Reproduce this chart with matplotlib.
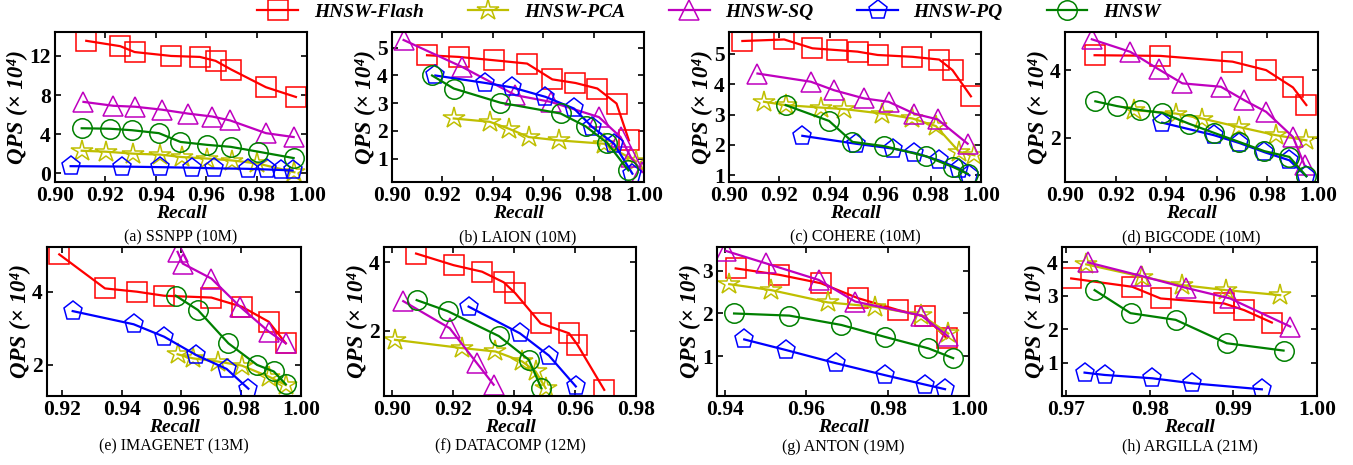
import matplotlib
matplotlib.use("Agg")
import matplotlib.pyplot as plt
from matplotlib.ticker import FormatStrFormatter
from matplotlib.lines import Line2D

plt.rcParams['font.family'] = ['Liberation Serif', 'DejaVu Serif']

METHODS = ['HNSW-Flash', 'HNSW-PCA', 'HNSW-SQ', 'HNSW-PQ', 'HNSW']
COLORS = {'HNSW-Flash': 'r', 'HNSW-PCA': 'y', 'HNSW-SQ': 'm', 'HNSW-PQ': 'b', 'HNSW': 'g'}
MARKERS = {'HNSW-Flash': 's', 'HNSW-PCA': '*', 'HNSW-SQ': '^', 'HNSW-PQ': 'p', 'HNSW': 'o'}

# (recall, QPS x 1e4) per method
ssnpp = {
    'HNSW-Flash': ([0.9124, 0.9259, 0.9316, 0.9461, 0.9575, 0.9637, 0.970, 0.9837, 0.9956],
                   [13.55, 13.0, 12.4, 12.0, 11.9, 11.5, 10.6, 8.8, 7.8]),
    'HNSW-PCA': ([0.9106, 0.9203, 0.931, 0.9418, 0.9505, 0.9604, 0.9704, 0.9803, 0.995],
                 [2.3, 2.2, 2.0, 1.9, 1.65, 1.5, 1.3, 1.0, 0.1]),
    'HNSW-SQ': ([0.9113, 0.9232, 0.9319, 0.9425, 0.9528, 0.9624, 0.9695, 0.9837, 0.9947],
                [7.3, 6.9, 6.8, 6.5, 6.1, 5.8, 5.4, 4.1, 3.7]),
    'HNSW-PQ': ([0.9062, 0.9266, 0.9416, 0.9545, 0.9631, 0.9764, 0.9843, 0.9896, 0.9943],
                [0.72, 0.68, 0.62, 0.56, 0.5, 0.45, 0.38, 0.33, 0.28]),
    'HNSW': ([0.9106, 0.9219, 0.9305, 0.9412, 0.9498, 0.9604, 0.9697, 0.9807, 0.9947],
             [4.6, 4.55, 4.4, 4.1, 3.2, 2.9, 2.7, 2.2, 1.55]),
}
laion = {
    'HNSW-Flash': ([0.9139, 0.9265, 0.9404, 0.9536, 0.9636, 0.9728, 0.9815, 0.9891, 0.9940],
                   [4.73, 4.67, 4.55, 4.43, 3.86, 3.73, 3.53, 2.99, 1.66]),
    'HNSW-PCA': ([0.9245, 0.9388, 0.9464, 0.9543, 0.9662, 0.9841, 0.997],
                 [2.45, 2.33, 2.08, 1.78, 1.66, 1.54, 0.9]),
    'HNSW-SQ': ([0.9046, 0.9278, 0.9490, 0.9629, 0.9821, 0.9907, 0.9947, 0.9993],
                [5.28, 4.31, 3.29, 3.05, 2.5, 1.78, 1.06, 0.52]),
    'HNSW-PQ': ([0.9172, 0.9371, 0.9477, 0.9609, 0.9722, 0.9795, 0.9881, 0.9954],
                [4.0, 3.73, 3.57, 3.23, 2.81, 2.14, 1.54, 0.46]),
    'HNSW': ([0.9159, 0.9245, 0.9430, 0.9669, 0.9768, 0.9854, 0.9938],
             [4.0, 3.53, 3.02, 2.63, 2.17, 1.57, 0.58]),
}
cohere = {
    'HNSW-Flash': ([0.9053, 0.9219, 0.9331, 0.943, 0.951, 0.959, 0.9728, 0.9834, 0.9887, 0.996],
                   [5.42, 5.47, 5.18, 5.12, 5.07, 4.96, 4.9, 4.81, 4.46, 3.6]),
    'HNSW-PCA': ([0.9139, 0.9225, 0.9364, 0.9457, 0.9609, 0.9728, 0.9821, 0.9914, 0.9974],
                 [3.42, 3.31, 3.23, 3.18, 3.03, 2.87, 2.62, 1.77, 1.66]),
    'HNSW-SQ': ([0.9113, 0.9325, 0.9417, 0.9536, 0.9633, 0.9735, 0.9828, 0.9947],
                [4.35, 4.08, 3.8, 3.53, 3.42, 3.03, 2.84, 2.04]),
    'HNSW-PQ': ([0.9291, 0.9503, 0.9649, 0.9735, 0.9834, 0.9914, 0.9954],
                [2.3, 2.04, 1.88, 1.74, 1.49, 1.22, 1.0]),
    'HNSW': ([0.9225, 0.9397, 0.949, 0.9616, 0.9781, 0.989, 0.9947],
             [3.31, 2.79, 2.1, 1.96, 1.63, 1.27, 1.05]),
}
bigcode = {
    'HNSW-Flash': ([0.9117, 0.9377, 0.9662, 0.9795, 0.9901, 0.9954],
                   [4.44, 4.42, 4.25, 4.0, 3.49, 2.97]),
    'HNSW-PCA': ([0.9272, 0.9437, 0.9543, 0.9689, 0.9834, 0.9954],
                 [2.82, 2.72, 2.57, 2.32, 2.08, 1.93]),
    'HNSW-SQ': ([0.9106, 0.9258, 0.9371, 0.9464, 0.9616, 0.9709, 0.9795, 0.9901, 0.9947],
                [4.91, 4.54, 4.02, 3.61, 3.51, 3.11, 2.77, 2.03, 1.19]),
    'HNSW-PQ': ([0.9384, 0.9589, 0.9689, 0.9788, 0.9887, 0.9954],
                [2.45, 2.08, 1.85, 1.58, 1.34, 0.87]),
    'HNSW': ([0.912, 0.9205, 0.9298, 0.9384, 0.949, 0.9589, 0.9689, 0.9788, 0.9887, 0.9954],
             [3.08, 2.94, 2.82, 2.74, 2.42, 2.15, 1.88, 1.61, 1.44, 0.87]),
}
imagenet = {
    'HNSW-Flash': ([0.9191, 0.9344, 0.9451, 0.9542, 0.970, 0.9802, 0.9892, 0.9949],
                   [5.02, 4.09, 4.0, 3.89, 3.84, 3.59, 3.18, 2.59]),
    'HNSW-PCA': ([0.9587, 0.9638, 0.9723, 0.9802, 0.9892, 0.9949],
                 [2.29, 2.18, 2.09, 1.98, 1.68, 1.45]),
    'HNSW-SQ': ([0.9587, 0.9604, 0.970, 0.9796, 0.9892, 0.9949],
                [5.09, 4.77, 4.36, 3.59, 2.91, 2.59]),
    'HNSW-PQ': ([0.9236, 0.944, 0.9542, 0.9649, 0.9751, 0.9824],
                [3.47, 3.11, 2.77, 2.27, 1.89, 1.35]),
    'HNSW': ([0.9581, 0.9655, 0.9757, 0.9853, 0.9909, 0.9949],
             [3.89, 3.5, 2.59, 2.0, 1.82, 1.47]),
}
datacomp = {
    'HNSW-Flash': ([0.908, 0.9203, 0.9296, 0.9367, 0.9405, 0.9488, 0.9581, 0.9608, 0.9696],
                   [4.26, 3.92, 3.73, 3.42, 3.1, 2.22, 1.93, 1.6, 0.28]),
    'HNSW-PCA': ([0.9011, 0.923, 0.934, 0.9427, 0.9471, 0.9504],
                 [1.74, 1.5, 1.4, 1.11, 0.82, 0.33]),
    'HNSW-SQ': ([0.9038, 0.919, 0.9279, 0.9334],
                [2.87, 2.08, 1.06, 0.43]),
    'HNSW-PQ': ([0.9252, 0.942, 0.9515, 0.9603],
                [2.71, 1.93, 1.28, 0.38]),
    'HNSW': ([0.9082, 0.9183, 0.9351, 0.9449, 0.949],
             [2.9, 2.58, 1.85, 1.16, 0.33]),
}
anton = {
    'HNSW-Flash': ([0.9426, 0.9533, 0.9636, 0.9727, 0.9826, 0.9891, 0.9945],
                   [3.06, 2.91, 2.71, 2.36, 2.08, 1.93, 1.42]),
    'HNSW-PCA': ([0.941, 0.9513, 0.9653, 0.9768, 0.9883, 0.9949],
                 [2.69, 2.55, 2.26, 2.16, 1.96, 1.53]),
    'HNSW-SQ': ([0.9402, 0.95, 0.963, 0.972, 0.9883, 0.9949],
                [3.47, 3.18, 2.79, 2.28, 1.95, 1.46]),
    'HNSW-PQ': ([0.9447, 0.955, 0.9673, 0.9793, 0.9891, 0.9941],
                [1.39, 1.14, 0.83, 0.55, 0.33, 0.22]),
    'HNSW': ([0.9422, 0.9558, 0.9686, 0.9793, 0.99, 0.9961],
             [2.0, 1.95, 1.73, 1.45, 1.18, 0.95]),
}
argilla = {
    'HNSW-Flash': ([0.9706, 0.9779, 0.9813, 0.9889, 0.9913, 0.9946],
                   [3.52, 3.27, 2.92, 2.77, 2.57, 2.2]),
    'HNSW-PCA': ([0.9724, 0.9791, 0.9839, 0.9891, 0.9956],
                 [3.94, 3.57, 3.32, 3.17, 3.02]),
    'HNSW-SQ': ([0.9726, 0.9789, 0.9843, 0.9896, 0.9968],
                [4.0, 3.6, 3.24, 2.92, 2.08]),
    'HNSW-PQ': ([0.9722, 0.9746, 0.9803, 0.9851, 0.9934],
                [0.7, 0.63, 0.53, 0.38, 0.2]),
    'HNSW': ([0.9734, 0.9777, 0.9831, 0.9892, 0.996],
             [3.17, 2.48, 2.28, 1.58, 1.36]),
}

DATASETS = [ssnpp, laion, cohere, bigcode, imagenet, datacomp, anton, argilla]
TITLES = ['(a) SSNPP (10M)', '(b) LAION (10M)', '(c) COHERE (10M)', '(d) BIGCODE (10M)',
          '(e) IMAGENET (13M)', '(f) DATACOMP (12M)', '(g) ANTON (19M)', '(h) ARGILLA (21M)']
XLIMS = [(0.90, 1.00), (0.90, 1.00), (0.90, 1.00), (0.90, 1.00),
         (0.915, 1.00), (0.8975, 0.98), (0.938, 1.00), (0.9695, 1.00)]
YLIMS = [(-0.9, 14.4), (0.16, 5.55), (0.78, 5.7), (0.7, 5.11),
         (1.15, 5.23), (0.1, 4.46), (0.06, 3.57), (0.0, 4.47)]
XTICKS = [[0.90, 0.92, 0.94, 0.96, 0.98, 1.00]] * 4 + [
    [0.92, 0.94, 0.96, 0.98, 1.00],
    [0.90, 0.92, 0.94, 0.96, 0.98],
    [0.94, 0.96, 0.98, 1.00],
    [0.97, 0.98, 0.99, 1.00]]
YTICKS = [[0, 4, 8, 12], [1, 2, 3, 4, 5], [1, 2, 3, 4, 5], [2, 4],
          [2, 4], [2, 4], [1, 2, 3], [1, 2, 3, 4]]

W, H = 1353, 465
fig = plt.figure(figsize=(W / 100, H / 100), dpi=100)

# axes boxes in pixels: left, right, top, bottom
boxes = [(55, 307, 32.5, 182), (392, 644, 32.5, 182), (729, 981, 32.5, 182), (1065, 1318, 32.5, 182),
         (47, 301, 246.7, 396), (384, 636, 246.7, 396), (717, 969, 246.7, 396), (1062, 1317, 246.7, 396)]


def msize(m):
    return 16 if m == 'HNSW-PCA' else 14


for i, data in enumerate(DATASETS):
    l, r, t, b = boxes[i]
    ax = fig.add_axes([l / W, 1 - b / H, (r - l) / W, (b - t) / H])
    for m in METHODS:
        rec, qps = data[m]
        ax.plot(rec, qps, color=COLORS[m], marker=MARKERS[m], markersize=msize(m),
                markerfacecolor='none', markeredgewidth=1.1, linewidth=1.6)
    ax.set_xlim(*XLIMS[i])
    ax.set_ylim(*YLIMS[i])
    ax.set_xticks(XTICKS[i])
    ax.set_yticks(YTICKS[i])
    ax.xaxis.set_major_formatter(FormatStrFormatter('%.2f'))
    ax.tick_params(direction='in', top=True, right=True, length=4, width=1.2, labelsize=15.5, pad=3)
    for lab in ax.get_xticklabels() + ax.get_yticklabels():
        lab.set_fontweight('bold')
    for s in ax.spines.values():
        s.set_linewidth(1.5)
    ax.set_xlabel('Recall', fontsize=14, fontweight='bold', fontstyle='italic', labelpad=-1)
    ax.set_ylabel('QPS (× 10⁴)', fontsize=16.5, fontweight='bold', fontstyle='italic', labelpad=1)
    off = -40 if i < 4 else -36.5
    ax.annotate(TITLES[i], xy=(0.5, 0), xycoords='axes fraction', xytext=(0, off),
                textcoords='offset points', ha='center', va='center', fontsize=11.5)

handles = [Line2D([], [], color=COLORS[m], marker=MARKERS[m], markersize=msize(m),
                  markerfacecolor='none', markeredgewidth=1.1, linewidth=1.6) for m in METHODS]
fig.legend(handles, METHODS, loc='center', bbox_to_anchor=(0.524, 0.974), ncol=5, frameon=False,
           handlelength=2.1, columnspacing=2.25, handletextpad=0.8,
           prop={'size': 14, 'weight': 'bold', 'style': 'italic'})

fig.savefig('out.png', dpi=100)
